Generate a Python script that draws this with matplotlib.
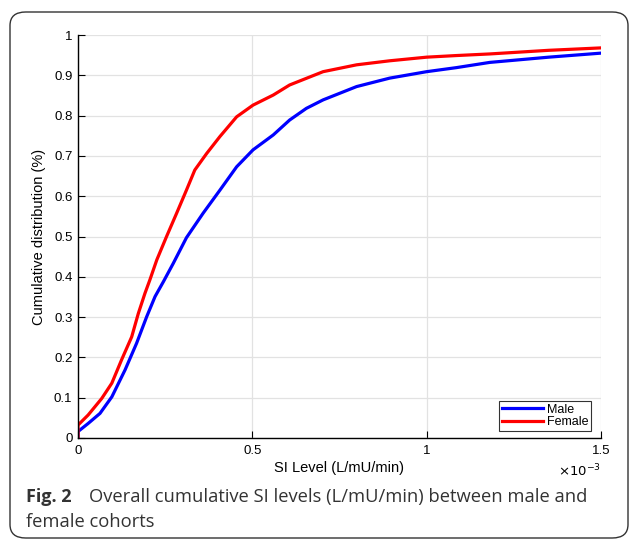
import matplotlib
matplotlib.use("Agg")
import matplotlib.pyplot as plt
import matplotlib.ticker as ticker
from matplotlib.patches import FancyBboxPatch

# SI level in units of 1e-3 L/mU/min, cumulative fraction
male_si = [0.0, 0.0, 0.029, 0.063, 0.097, 0.135, 0.168, 0.197, 0.221, 0.245,
           0.273, 0.311, 0.359, 0.407, 0.455, 0.502, 0.560, 0.607, 0.655,
           0.703, 0.799, 0.894, 1.0, 1.085, 1.181, 1.35, 1.5]
male_cdf = [0.0, 0.016, 0.036, 0.061, 0.102, 0.169, 0.235, 0.301, 0.351, 0.388,
            0.433, 0.497, 0.558, 0.615, 0.673, 0.715, 0.752, 0.789, 0.818,
            0.839, 0.872, 0.893, 0.909, 0.919, 0.932, 0.945, 0.955]

female_si = [0.0, 0.0, 0.029, 0.068, 0.097, 0.125, 0.154, 0.173, 0.192, 0.206,
             0.226, 0.254, 0.283, 0.311, 0.335, 0.369, 0.407, 0.455, 0.502,
             0.560, 0.607, 0.703, 0.799, 0.894, 1.0, 1.085, 1.181, 1.35, 1.5]
female_cdf = [0.0, 0.032, 0.057, 0.098, 0.136, 0.194, 0.251, 0.309, 0.359, 0.392,
              0.442, 0.500, 0.558, 0.615, 0.665, 0.706, 0.748, 0.797, 0.826,
              0.851, 0.876, 0.909, 0.926, 0.936, 0.945, 0.949, 0.953, 0.962, 0.968]

x_ticks = [0, 0.5, 1, 1.5]
y_ticks = [0, 0.1, 0.2, 0.3, 0.4, 0.5, 0.6, 0.7, 0.8, 0.9, 1]

plt.rcParams['font.family'] = ['Liberation Sans', 'DejaVu Sans']

fig = plt.figure(figsize=(6.3, 5.4), dpi=100)

# rounded frame around figure + caption
frame = FancyBboxPatch((10 / 630, 2 / 540), 618 / 630, 526 / 540,
                       boxstyle="round,pad=0,rounding_size=0.025",
                       transform=fig.transFigure, facecolor='none',
                       edgecolor='#333333', linewidth=1.0)
fig.patches.append(frame)

ax = fig.add_axes([78 / 630, 1 - 438 / 540, 523 / 630, 403 / 540])

ax.plot(male_si, male_cdf, color='#0000ff', linewidth=2.3, label='Male')
ax.plot(female_si, female_cdf, color='#ff0000', linewidth=2.3, label='Female')

ax.set_xlim(0, 1.5)
ax.set_ylim(0, 1)
ax.set_xticks(x_ticks)
ax.set_yticks(y_ticks)
fmt = ticker.FuncFormatter(lambda v, p: f"{v:g}")
ax.xaxis.set_major_formatter(fmt)
ax.yaxis.set_major_formatter(fmt)
ax.tick_params(direction='in', length=5, width=0.8, labelsize=9.5, colors='black')
ax.tick_params(axis='x', pad=5)
ax.tick_params(axis='y', pad=4)

ax.grid(True, color='#e2e2e2', linewidth=0.9)
ax.set_axisbelow(True)
for s in ['top', 'right']:
    ax.spines[s].set_visible(False)
for s in ['left', 'bottom']:
    ax.spines[s].set_linewidth(1.0)

ax.set_xlabel("SI Level (L/mU/min)", fontsize=10.5, labelpad=3)
ax.set_ylabel("Cumulative distribution (%)", fontsize=10.5, labelpad=6)
ax.text(1.0, -0.062, r"$\times10^{-3}$", transform=ax.transAxes,
        ha='right', va='top', fontsize=9.5)

leg = ax.legend(loc='lower right', bbox_to_anchor=(0.98, 0.018), fontsize=9,
                frameon=True, fancybox=False, edgecolor='black',
                handlelength=3.3, handletextpad=0.3, borderpad=0.2,
                labelspacing=0.05, borderaxespad=0)
leg.get_frame().set_linewidth(0.8)

cap_font = ['Open Sans', 'DejaVu Sans']
fig.text(26 / 630, 1 - 497 / 540, "Fig. 2", fontsize=13, fontweight='bold',
         family=cap_font, color='#333333', va='center')
fig.text(89 / 630, 1 - 497 / 540,
         "Overall cumulative SI levels (L/mU/min) between male and",
         fontsize=13.2, family=cap_font, color='#333333', va='center')
fig.text(26 / 630, 1 - 522 / 540, "female cohorts", fontsize=13.2,
         family=cap_font, color='#333333', va='center')

plt.savefig("out.png", dpi=100)
